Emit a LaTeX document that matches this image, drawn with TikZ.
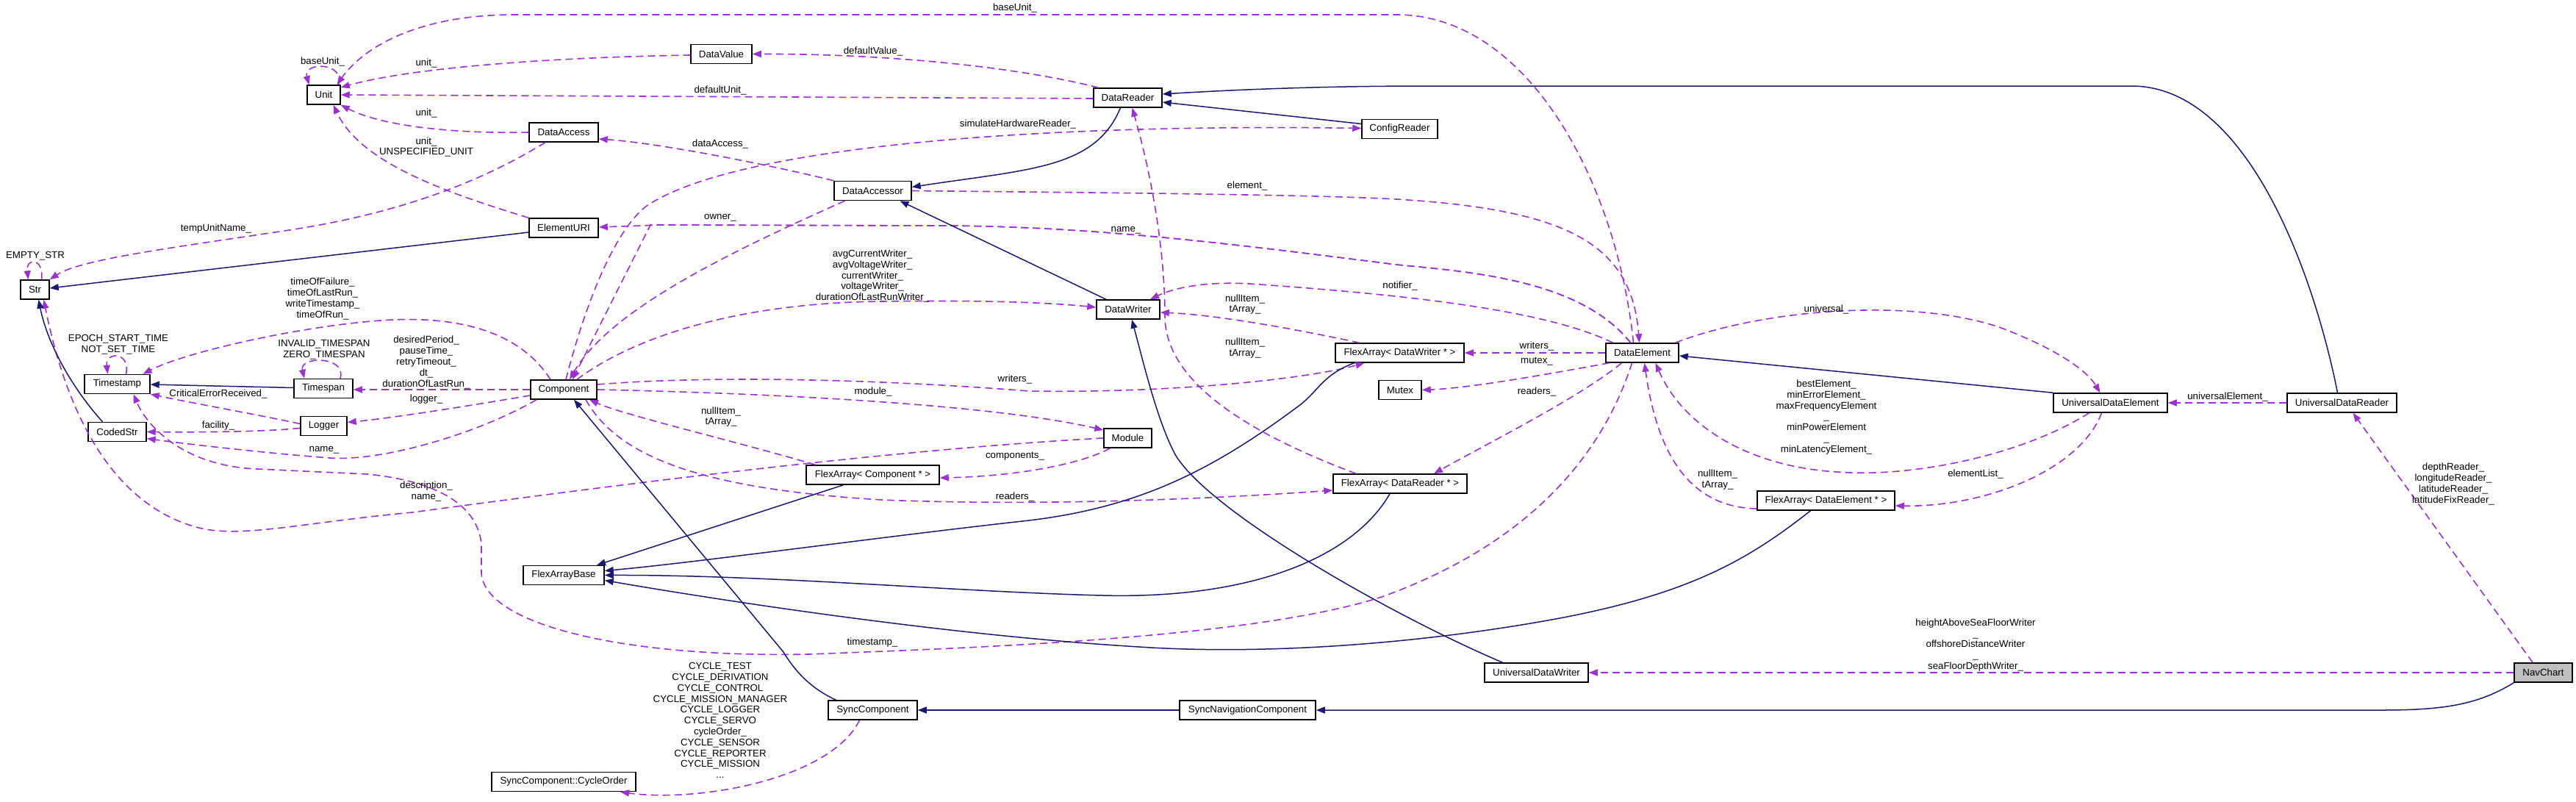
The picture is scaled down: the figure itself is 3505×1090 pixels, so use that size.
\documentclass[tikz,border=0pt]{standalone}
\usepackage{fontspec}
\setmainfont{Liberation Sans}
\usetikzlibrary{arrows.meta}
\definecolor{depc}{HTML}{9A32CD}
\definecolor{inhc}{HTML}{191970}
\newcommand\diafont{\fontsize{13.3}{14.8}\selectfont}
\begin{document}
\begin{tikzpicture}[x=1pt,y=-1pt,
  cls/.style={draw=black, line width=1.5pt, minimum height=26pt, inner sep=0pt, font=\diafont, fill=white},
  lbl/.style={font=\diafont, align=center, inner sep=0pt},
  depedge/.style={color=depc, line width=1.6pt, dash pattern=on 10pt off 6pt, -{Triangle[length=12pt,width=9pt]}},
  inhedge/.style={color=inhc, line width=1.5pt, -{Triangle[length=12pt,width=9pt]}},
]
\fill[white] (0,0) rectangle (3505,1090);
\useasboundingbox (0,0) rectangle (3505,1090);

% ---------- nodes ----------
\node[cls,minimum width=45pt] (unit) at (440.5,129) {Unit};
\node[cls,minimum width=83pt] (datavalue) at (981.5,73.5) {DataValue};
\node[cls,minimum width=93pt] (datareader) at (1534.5,133) {DataReader};
\node[cls,minimum width=103pt] (configreader) at (1904.5,175.5) {ConfigReader};
\node[cls,minimum width=94pt] (dataaccess) at (767,180) {DataAccess};
\node[cls,minimum width=105pt] (dataaccessor) at (1187.5,259.5) {DataAccessor};
\node[cls,minimum width=94pt] (elementuri) at (767,310) {ElementURI};
\node[cls,minimum width=39pt] (str) at (47.5,394) {Str};
\node[cls,minimum width=86pt] (datawriter) at (1535,421) {DataWriter};
\node[cls,minimum width=89pt] (timestamp) at (159.5,522.5) {Timestamp};
\node[cls,minimum width=80pt] (timespan) at (440,528.5) {Timespan};
\node[cls,minimum width=90pt] (component) at (767,530) {Component};
\node[cls,minimum width=63pt] (logger) at (440.5,579.5) {Logger};
\node[cls,minimum width=79pt] (codedstr) at (159.5,587.5) {CodedStr};
\node[cls,minimum width=110pt] (flexarraybase) at (767,782.5) {FlexArrayBase};
\node[cls,minimum width=196pt] (cycleorder) at (767,1063.5) {SyncComponent::CycleOrder};
\node[cls,minimum width=65pt] (module) at (1534.5,596) {Module};
\node[cls,minimum width=181pt] (facomp) at (1187.5,646) {FlexArray< Component * >};
\node[cls,minimum width=182pt] (fareader) at (1905,658) {FlexArray< DataReader * >};
\node[cls,minimum width=121pt] (syncomp) at (1187.5,966) {SyncComponent};
\node[cls,minimum width=185pt] (syncnav) at (1697.5,966) {SyncNavigationComponent};
\node[cls,minimum width=175pt] (fawriter) at (1904.5,480) {FlexArray< DataWriter * >};
\node[cls,minimum width=58pt] (mutex) at (1905,530.5) {Mutex};
\node[cls,minimum width=99pt] (dataelement) at (2234.5,480) {DataElement};
\node[cls,minimum width=155pt] (ude) at (2871.5,548) {UniversalDataElement};
\node[cls,minimum width=149pt] (udr) at (3186.5,548) {UniversalDataReader};
\node[cls,minimum width=187pt] (fadelement) at (2484.5,681) {FlexArray< DataElement * >};
\node[cls,minimum width=141pt] (udw) at (2090.5,915) {UniversalDataWriter};
\node[cls,minimum width=79pt,fill=black!25] (navchart) at (3460.5,915) {NavChart};

% ---------- self loops ----------
\draw[depedge] ([xshift=20pt]unit.north) .. controls (470,84) and (412,84) .. ([xshift=-20pt]unit.north);
\draw[depedge] ([xshift=9pt]str.north) .. controls (60,350) and (35,350) .. ([xshift=-9pt]str.north);
\draw[depedge] ([xshift=12pt]timestamp.north) .. controls (178,478) and (143,478) .. ([xshift=-13pt]timestamp.north);
\draw[depedge] ([xshift=23pt]timespan.north) .. controls (472,484) and (407,484) .. ([xshift=-26pt]timespan.north);

% ---------- usage edges ----------
\draw[depedge] ([xshift=-12pt]dataelement.north) .. controls (2200,250) and (2080,20) .. (1900,20) -- (700,20) .. controls (560,20) and (490,70) .. ([xshift=18pt]unit.north);
\draw[depedge] ([yshift=-1.5pt]datavalue.west) .. controls (750,78) and (560,92) .. ([yshift=10pt]unit.east);
\draw[depedge] ([yshift=-1pt]datareader.west) -- (unit.east);
\draw[depedge] (dataaccess.west) .. controls (620,182) and (520,172) .. (unit.south east);
\draw[depedge] (elementuri.north west) .. controls (600,260) and (490,220) .. ([xshift=13pt]unit.south);
\draw[depedge] ([xshift=-40pt]datareader.north) .. controls (1380,90) and (1200,73) .. (datavalue.east);
\draw[depedge] (dataaccessor.north west) .. controls (1050,225) and (900,195) .. ([yshift=-9pt]dataaccess.east);
\draw[depedge] ([xshift=-25pt]dataaccess.south) .. controls (650,250) and (540,290) .. (400,312) .. controls (250,335) and (110,352) .. (str.north east);
\draw[depedge] ([xshift=3pt]component.north) .. controls (800,400) and (840,310) .. (880,280) .. controls (1000,200) and (1400,168) .. ([yshift=1pt]configreader.west);
\draw[depedge] (dataaccessor.east) .. controls (1500,262) and (1800,265) .. (1900,271) .. controls (2130,285) and (2220,330) .. ([xshift=-4pt]dataelement.north);
\draw[depedge] ([xshift=-16pt]dataelement.north) .. controls (2150,380) and (2000,370) .. (1900,360) .. controls (1700,335) and (1500,308) .. (1283,307) -- (900,306) -- ([yshift=1pt]elementuri.east);
\draw[depedge] ([xshift=-16pt]dataelement.north) .. controls (2150,380) and (2000,370) .. (1900,360) .. controls (1700,335) and (1500,308) .. (1283,307) -- (885,306) -- ([xshift=12pt]component.north);
\draw[depedge] ([xshift=-38pt]dataaccessor.south) .. controls (1000,340) and (830,420) .. ([xshift=8pt]component.north);
\draw[depedge] ([xshift=18pt]component.north) .. controls (860,460) and (1000,412) .. (1200,410) .. controls (1350,408) and (1430,412) .. ([yshift=3pt]datawriter.west);
\draw[depedge] ([xshift=-18pt]component.north) .. controls (700,440) and (600,430) .. (517,436) .. controls (400,445) and (250,480) .. ([xshift=35pt]timestamp.north);
\draw[depedge] (component.west) -- ([yshift=-1.5pt]timespan.east);
\draw[depedge] ([yshift=-8pt]component.west) .. controls (650,550) and (540,568) .. ([yshift=5pt]logger.east);
\draw[depedge] ([yshift=3pt]logger.west) .. controls (340,562) and (260,548) .. (timestamp.south east);
\draw[depedge] ([yshift=-3pt]logger.west) .. controls (350,588) and (260,588) .. (codedstr.east);
\draw[depedge] ([xshift=-37pt]component.south) .. controls (650,590) and (520,628) .. (449,623) .. controls (380,618) and (260,605) .. ([yshift=-9pt]codedstr.east);
\draw[depedge] (module.west) .. controls (1200,612) and (800,665) .. (561,697) .. controls (400,712) and (320,735) .. (260,715) .. controls (150,680) and (90,560) .. ([xshift=12pt]str.south);
\draw[depedge] ([xshift=-14pt]dataelement.south) .. controls (2180,620) and (2080,740) .. (1880,812) .. controls (1700,870) and (1300,882) .. (1100,890) .. controls (850,895) and (660,850) .. (655,780) -- (655,740) .. controls (650,690) and (600,655) .. (500,645) -- (350,638) .. controls (250,634) and (200,580) .. ([xshift=22pt]timestamp.south);
\draw[depedge] (component.east) .. controls (1050,535) and (1350,550) .. ([yshift=11pt]module.west);
\draw[depedge] ([yshift=7pt]component.east) .. controls (1000,508) and (1250,520) .. (1400,532) .. controls (1600,535) and (1780,515) .. ([xshift=-48pt]fawriter.south);
\draw[depedge] ([xshift=-78pt]facomp.north) .. controls (1000,600) and (850,565) .. ([xshift=35pt]component.south);
\draw[depedge] ([xshift=-24pt]module.south) .. controls (1470,632) and (1380,648) .. ([yshift=-4pt]facomp.east);
\draw[depedge] ([xshift=30pt]component.south) .. controls (840,620) and (950,665) .. (1200,680) .. controls (1450,690) and (1700,675) .. ([yshift=-9pt]fareader.west);
\draw[depedge] ([xshift=-55pt]fawriter.north) .. controls (1750,445) and (1650,428) .. ([yshift=-4pt]datawriter.east);
\draw[depedge] ([xshift=-60pt]fareader.north) .. controls (1700,590) and (1585,520) .. (1585,430) .. controls (1585,350) and (1570,250) .. ([xshift=6pt]datareader.south);
\draw[depedge] ([xshift=-40pt]dataelement.north) .. controls (2100,420) and (1900,400) .. (1700,386) .. controls (1630,382) and (1590,395) .. ([xshift=30pt]datawriter.north);
\draw[depedge] (dataelement.west) -- (fawriter.east);
\draw[depedge] ([xshift=-45pt]dataelement.south) .. controls (2100,510) and (2000,528) .. (mutex.east);
\draw[depedge] ([xshift=-28pt]dataelement.south) .. controls (2150,540) and (2030,600) .. ([xshift=46pt]fareader.north);
\draw[depedge] ([xshift=45pt]dataelement.north) .. controls (2400,420) and (2600,405) .. (2720,445) .. controls (2800,475) and (2840,505) .. ([xshift=-14pt]ude.north);
\draw[depedge] ([xshift=-29pt]ude.south) .. controls (2750,620) and (2600,650) .. (2500,642) .. controls (2380,635) and (2290,580) .. ([xshift=18pt]dataelement.south);
\draw[depedge] ([yshift=-11pt]fadelement.west) .. controls (2300,690) and (2255,620) .. ([xshift=3pt]dataelement.south);
\draw[depedge] ([xshift=-12pt]ude.south) .. controls (2830,640) and (2700,690) .. ([yshift=-7pt]fadelement.east);
\draw[depedge] (udr.west) -- (ude.east);
\draw[depedge] ([xshift=-14.5pt]navchart.north) -- ([xshift=15pt]udr.south);
\draw[depedge] (navchart.west) -- (udw.east);
\draw[depedge] ([xshift=-18pt]syncomp.south) .. controls (1130,1060) and (950,1092) .. ([xshift=77pt]cycleorder.south);

% ---------- inheritance edges ----------
\draw[inhedge] ([yshift=-6pt]elementuri.west) -- ([yshift=2pt]str.east);
\draw[inhedge] ([xshift=-10pt]datareader.south) .. controls (1490,230) and (1400,230) .. ([yshift=5pt]dataaccessor.east);
\draw[inhedge] ([yshift=7pt]configreader.west) -- ([yshift=-6pt]datareader.east);
\draw[inhedge] ([xshift=-6pt]udr.north) .. controls (3150,380) and (3060,117) .. (2900,117) -- (1940,117) .. controls (1800,117) and (1680,122) .. ([yshift=5pt]datareader.east);
\draw[inhedge] ([xshift=-30pt]datawriter.north) -- ([xshift=37pt]dataaccessor.south);
\draw[inhedge] ([yshift=1pt]timespan.west) -- ([yshift=-0.5pt]timestamp.east);
\draw[inhedge] ([xshift=-20pt]codedstr.north) .. controls (100,530) and (65,470) .. ([xshift=5pt]str.south);
\draw[inhedge] (ude.north west) -- ([yshift=-4pt]dataelement.east);
\draw[inhedge] (navchart.south west) .. controls (3370,960) and (3320,966) .. (3240,966) -- (syncnav.east);
\draw[inhedge] (syncnav.west) -- (syncomp.east);
\draw[inhedge] ([xshift=-50pt]syncomp.north) .. controls (1100,935) and (1080,910) .. (1066,887) -- ([xshift=14pt]component.south);
\draw[inhedge] ([xshift=-40pt]facomp.south) -- ([xshift=45pt]flexarraybase.north);
\draw[inhedge] ([xshift=-62pt]fawriter.south) .. controls (1800,510) and (1795,530) .. (1770,550) .. controls (1650,640) and (1550,690) .. (1400,708) .. controls (1200,730) and (950,765) .. ([yshift=6pt]flexarraybase.east);
\draw[inhedge] ([xshift=-14pt]fareader.south) .. controls (1840,760) and (1700,815) .. (1500,810) .. controls (1300,805) and (1050,782) .. (flexarraybase.east);
\draw[inhedge] ([xshift=-21pt]fadelement.south) .. controls (2380,760) and (2300,810) .. (2100,845) .. controls (1900,880) and (1700,890) .. (1550,880) .. controls (1300,865) and (1000,820) .. ([yshift=-7pt]flexarraybase.east);
\draw[inhedge] ([xshift=-46pt]udw.north) .. controls (1900,840) and (1650,700) .. (1600,620) .. controls (1575,575) and (1555,490) .. ([xshift=5pt]datawriter.south);

% ---------- labels ----------
\node[lbl] (l1) at (439,84) {baseUnit\_};
\node[lbl] (l2) at (48,348) {EMPTY\_STR};
\node[lbl] (l3) at (161,469) {EPOCH\_START\_TIME\\NOT\_SET\_TIME};
\node[lbl] (l4) at (441,475.5) {INVALID\_TIMESPAN\\ZERO\_TIMESPAN};
\node[lbl] (l5) at (1381,11) {baseUnit\_};
\node[lbl] (l6) at (580,86) {unit\_};
\node[lbl] (l7) at (980,123) {defaultUnit\_};
\node[lbl] (l8) at (580,154) {unit\_};
\node[lbl] (l9) at (580,200) {unit\_\\UNSPECIFIED\_UNIT};
\node[lbl] (l10) at (1188,70) {defaultValue\_};
\node[lbl] (l11) at (980,196) {dataAccess\_};
\node[lbl] (l12) at (294,311) {tempUnitName\_};
\node[lbl] (l13) at (1385,169) {simulateHardwareReader\_};
\node[lbl] (l14) at (1697,253) {element\_};
\node[lbl] (l15) at (980,296) {owner\_};
\node[lbl] (l16) at (1532,313) {name\_};
\node[lbl] (l17) at (1187,375.5) {avgCurrentWriter\_\\avgVoltageWriter\_\\currentWriter\_\\voltageWriter\_\\durationOfLastRunWriter\_};
\node[lbl] (l18) at (439,406.5) {timeOfFailure\_\\timeOfLastRun\_\\writeTimestamp\_\\timeOfRun\_};
\node[lbl] (l19) at (580,493) {desiredPeriod\_\\pauseTime\_\\retryTimeout\_\\dt\_\\durationOfLastRun\_};
\node[lbl] (l20) at (297,536) {CriticalErrorReceived\_};
\node[lbl] (l21) at (580,543) {logger\_};
\node[lbl] (l22) at (297,579) {facility\_};
\node[lbl] (l23) at (441,612) {name\_};
\node[lbl] (l24) at (580,668.5) {description\_\\name\_};
\node[lbl] (l25) at (1694,414) {nullItem\_\\tArray\_};
\node[lbl] (l26) at (1694,473.5) {nullItem\_\\tArray\_};
\node[lbl] (l27) at (1905,389) {notifier\_};
\node[lbl] (l28) at (1381,516) {writers\_};
\node[lbl] (l29) at (1188,533) {module\_};
\node[lbl] (l30) at (981,567) {nullItem\_\\tArray\_};
\node[lbl] (l31) at (1381,621) {components\_};
\node[lbl] (l32) at (1381,676) {readers\_};
\node[lbl] (l33) at (1187,874) {timestamp\_};
\node[lbl] (l34) at (980,980) {CYCLE\_TEST\\CYCLE\_DERIVATION\\CYCLE\_CONTROL\\CYCLE\_MISSION\_MANAGER\\CYCLE\_LOGGER\\CYCLE\_SERVO\\cycleOrder\_\\CYCLE\_SENSOR\\CYCLE\_REPORTER\\CYCLE\_MISSION\\...};
\node[lbl] (l35) at (2091,471) {writers\_};
\node[lbl] (l36) at (2091,492) {mutex\_};
\node[lbl] (l37) at (2091,533) {readers\_};
\node[lbl] (l38) at (2485,421) {universal\_};
\node[lbl] (l39) at (2485,567.5) {bestElement\_\\minErrorElement\_\\maxFrequencyElement\\\_\\minPowerElement\\\_\\minLatencyElement\_};
\node[lbl] (l40) at (2337,652.5) {nullItem\_\\tArray\_};
\node[lbl] (l41) at (2688,645) {elementList\_};
\node[lbl] (l42) at (3031,540) {universalElement\_};
\node[lbl] (l43) at (3338,658.5) {depthReader\_\\longitudeReader\_\\latitudeReader\_\\latitudeFixReader\_};
\node[lbl] (l44) at (2688,877.5) {heightAboveSeaFloorWriter\\\_\\offshoreDistanceWriter\\\_\\seaFloorDepthWriter\_};
\end{tikzpicture}
\end{document}
